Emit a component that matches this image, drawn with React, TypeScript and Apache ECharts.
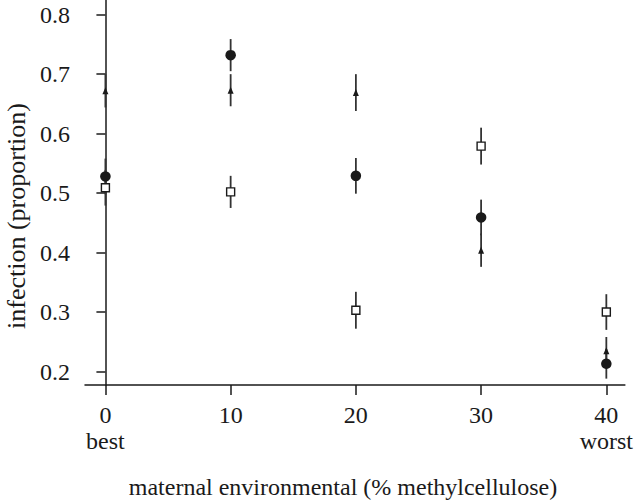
import React, { useEffect, useRef } from "react";
import * as echarts from "echarts";

const xValues = [0, 10, 20, 30, 40];
const circleMean = [0.528, 0.732, 0.529, 0.459, 0.213];
const circleErr = [0.03, 0.027, 0.03, 0.03, 0.025];
const triangleMean = [0.672, 0.673, 0.669, 0.404, 0.235];
const triangleErr = [0.028, 0.027, 0.031, 0.028, 0.023];
const squareMean = [0.509, 0.502, 0.303, 0.579, 0.3];
const squareErr = [0.03, 0.027, 0.031, 0.031, 0.03];
const yTicks = [0.2, 0.3, 0.4, 0.5, 0.6, 0.7, 0.8];
const xTicks = [0, 10, 20, 30, 40];
const xSubLabels: Record<number, string> = { 0: "best", 40: "worst" };
const xTitle = "maternal environmental (% methylcellulose)";
const yTitle = "infection (proportion)";

const FONT = "Liberation Serif";
const INK = "#1a1a1a";
const BAR = "#333333";

function errData(mean: number[], err: number[]) {
  return xValues.map((x, i) => [x, mean[i] - err[i], mean[i] + err[i]]);
}
function pts(mean: number[]) {
  return xValues.map((x, i) => [x, mean[i]]);
}

function errSeries(mean: number[], err: number[]) {
  return {
    type: "custom",
    data: errData(mean, err),
    z: 1,
    renderItem: (params: any, api: any) => {
      const p1 = api.coord([api.value(0), api.value(1)]);
      const p2 = api.coord([api.value(0), api.value(2)]);
      return {
        type: "line",
        shape: { x1: p1[0], y1: p1[1], x2: p2[0], y2: p2[1] },
        style: { stroke: BAR, lineWidth: 1.8 },
      };
    },
  };
}

export default function App() {
  const ref = useRef<HTMLDivElement>(null);
  useEffect(() => {
    if (!ref.current) return;
    const chart = echarts.init(ref.current, null, { renderer: "svg" });
    chart.setOption({
      animation: false,
      backgroundColor: "#ffffff",
      grid: { left: 85, right: 8, top: 0, bottom: 115, containLabel: false },
      xAxis: {
        type: "value",
        min: -1.63,
        max: 41.48,
        splitLine: { show: false },
        axisLine: { show: true, lineStyle: { color: INK, width: 1.5 } },
        axisTick: { show: true, customValues: xTicks, length: 10, lineStyle: { color: INK, width: 1.5 } },
        axisLabel: {
          customValues: xTicks,
          formatter: (v: number) => (xSubLabels[v] ? `${v}\n${xSubLabels[v]}` : `${v}`),
          fontFamily: FONT,
          fontSize: 24,
          lineHeight: 26,
          color: INK,
          margin: 17,
        },
      },
      yAxis: {
        type: "value",
        min: 0.1773,
        max: 0.8247,
        splitLine: { show: false },
        axisLine: { show: true, lineStyle: { color: INK, width: 1.5 } },
        axisTick: { show: true, customValues: yTicks, length: 9, lineStyle: { color: INK, width: 1.5 } },
        axisLabel: {
          customValues: yTicks,
          formatter: (v: number) => v.toFixed(1),
          fontFamily: FONT,
          fontSize: 24,
          color: INK,
          margin: 15,
        },
      },
      graphic: [
        {
          type: "text",
          x: 343,
          y: 487,
          style: { text: xTitle, fontFamily: FONT, fontSize: 24, fill: INK, align: "center", verticalAlign: "middle" },
        },
        {
          type: "text",
          x: 16,
          y: 216,
          rotation: Math.PI / 2,
          style: { text: yTitle, fontFamily: FONT, fontSize: 26, fill: INK, align: "center", verticalAlign: "middle" },
        },
      ],
      series: [
        errSeries(circleMean, circleErr),
        errSeries(triangleMean, triangleErr),
        errSeries(squareMean, squareErr),
        {
          type: "scatter",
          data: pts(squareMean),
          symbol: "rect",
          symbolSize: 8,
          z: 3,
          itemStyle: { color: "#ffffff", borderColor: INK, borderWidth: 1.4, opacity: 1 },
        },
        {
          type: "scatter",
          data: pts(triangleMean),
          symbol: "triangle",
          symbolSize: [6, 7],
          z: 3,
          itemStyle: { color: INK, opacity: 1 },
        },
        {
          type: "scatter",
          data: pts(circleMean),
          symbol: "circle",
          symbolSize: 10.5,
          z: 4,
          itemStyle: { color: INK, opacity: 1 },
        },
      ],
    });
    return () => chart.dispose();
  }, []);
  return (
    <div
      ref={ref}
      style={{ position: "fixed", left: 0, top: 0, width: 636, height: 500, background: "#fff" }}
    />
  );
}
